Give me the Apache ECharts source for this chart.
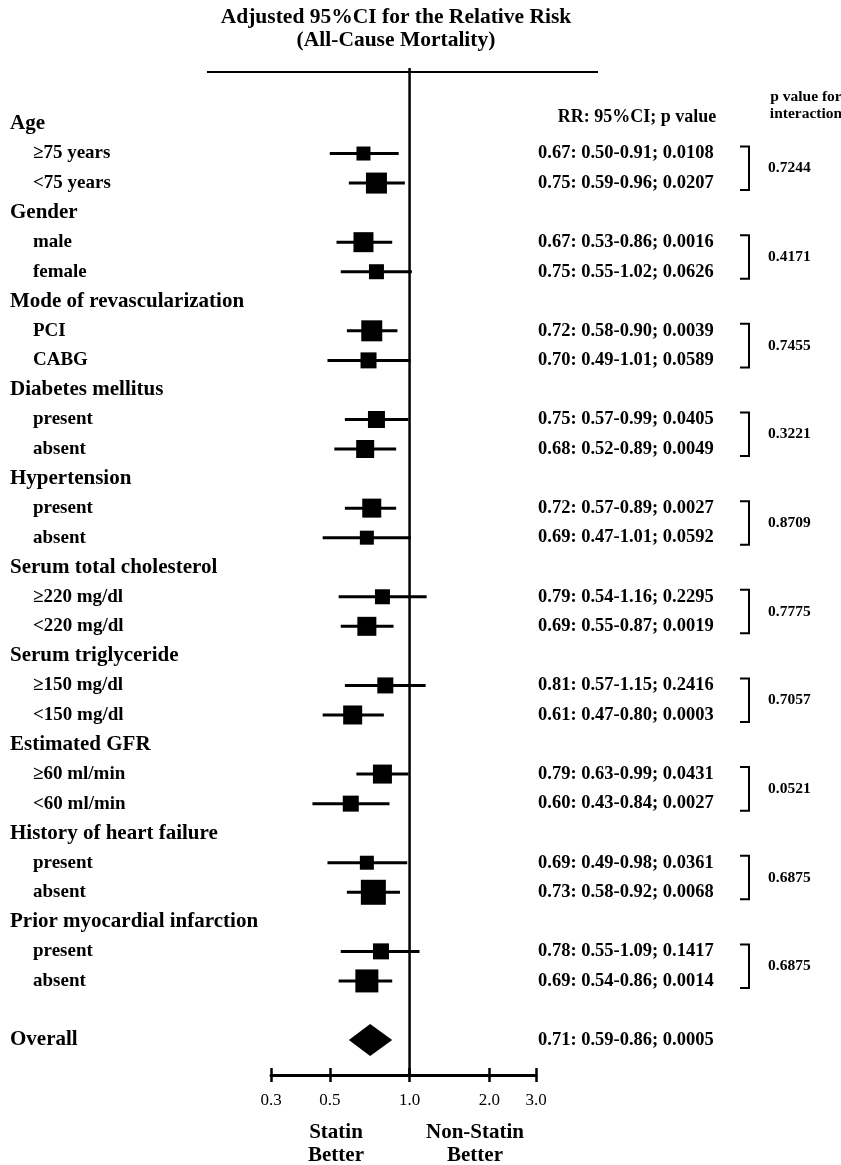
<!DOCTYPE html>
<html>
<head>
<meta charset="utf-8">
<script src="https://cdn.jsdelivr.net/npm/echarts@6/dist/echarts.min.js"></script>
<style>
  html, body { margin: 0; padding: 0; background: #fff; }
  #main { width: 841px; height: 1165px; }
</style>
</head>
<body>
<div id="main"></div>
<script>
// data
var groups = ['Age', 'Gender', 'Mode of revascularization', 'Diabetes mellitus', 'Hypertension',
  'Serum total cholesterol', 'Serum triglyceride', 'Estimated GFR', 'History of heart failure',
  'Prior myocardial infarction'];
var subgroups = ['≥75 years', '<75 years', 'male', 'female', 'PCI', 'CABG', 'present', 'absent',
  'present', 'absent', '≥220 mg/dl', '<220 mg/dl', '≥150 mg/dl', '<150 mg/dl', '≥60 ml/min',
  '<60 ml/min', 'present', 'absent', 'present', 'absent'];
var rr = [0.67, 0.75, 0.67, 0.75, 0.72, 0.70, 0.75, 0.68, 0.72, 0.69, 0.79, 0.69, 0.81, 0.61, 0.79, 0.60, 0.69, 0.73, 0.78, 0.69];
var ciLow = [0.50, 0.59, 0.53, 0.55, 0.58, 0.49, 0.57, 0.52, 0.57, 0.47, 0.54, 0.55, 0.57, 0.47, 0.63, 0.43, 0.49, 0.58, 0.55, 0.54];
var ciHigh = [0.91, 0.96, 0.86, 1.02, 0.90, 1.01, 0.99, 0.89, 0.89, 1.01, 1.16, 0.87, 1.15, 0.80, 0.99, 0.84, 0.98, 0.92, 1.09, 0.86];
var pValue = ['0.0108', '0.0207', '0.0016', '0.0626', '0.0039', '0.0589', '0.0405', '0.0049', '0.0027', '0.0592',
  '0.2295', '0.0019', '0.2416', '0.0003', '0.0431', '0.0027', '0.0361', '0.0068', '0.1417', '0.0014'];
var boxWeight = [14, 21, 20, 15, 21, 16, 17, 18, 19, 14, 15, 19, 16, 19, 19, 16, 14, 25, 16, 23];
var pInteraction = ['0.7244', '0.4171', '0.7455', '0.3221', '0.8709', '0.7775', '0.7057', '0.0521', '0.6875', '0.6875'];
var overall = { label: 'Overall', rr: 0.71, low: 0.59, high: 0.86, p: '0.0005' };
var tickValues = [0.3, 0.5, 1.0, 2.0, 3.0];
var refLine = 1.0;

var FONT = '"Liberation Serif", "Times New Roman", serif';
var LOG = Math.log10;
var xMin = LOG(tickValues[0]), xMax = LOG(tickValues[tickValues.length - 1]);

function rrText(r, l, h, p) {
  return r.toFixed(2) + ': ' + l.toFixed(2) + '-' + h.toFixed(2) + '; ' + p;
}

// one row per header / subgroup, a blank, then overall
var rowLabels = [], rowText = [], boxData = [], bracketData = [];
groups.forEach(function (g, i) {
  rowLabels.push('{h|' + g + '}');
  rowText.push('');
  var first = rowLabels.length;
  for (var j = 0; j < 2; j++) {
    var k = i * 2 + j;
    var row = rowLabels.length;
    rowLabels.push('{s|' + subgroups[k] + '}');
    rowText.push(rrText(rr[k], ciLow[k], ciHigh[k], pValue[k]));
    boxData.push([LOG(rr[k]), row, LOG(ciLow[k]), LOG(ciHigh[k]), boxWeight[k]]);
  }
  bracketData.push([first, first + 1, i]);
});
rowLabels.push('');
rowText.push('');
var overallRow = rowLabels.length;
rowLabels.push('{h|' + overall.label + '}');
rowText.push(rrText(overall.rr, overall.low, overall.high, overall.p));
var rowIds = rowLabels.map(function (d, i) { return String(i); });
var tickLogs = tickValues.map(LOG);

var chart = echarts.init(document.getElementById('main'));

var option = {
  backgroundColor: '#fff',
  animation: false,
  grid: [
    { left: 271, right: 305, top: 109.2, height: 945.6 },
    { left: 271, right: 305, top: 68, bottom: 90 }
  ],
  xAxis: [
    { gridIndex: 0, type: 'value', min: xMin, max: xMax, show: false },
    {
      gridIndex: 1, type: 'value', min: xMin, max: xMax, position: 'bottom',
      axisLine: { lineStyle: { color: '#000', width: 3 } },
      axisTick: { customValues: tickLogs, length: 7, lineStyle: { color: '#000', width: 2.5 } },
      axisLabel: {
        customValues: tickLogs, margin: 17, color: '#000', fontFamily: FONT, fontSize: 17,
        formatter: function (v) {
          var best = 0;
          tickLogs.forEach(function (t, i) { if (Math.abs(t - v) < Math.abs(tickLogs[best] - v)) best = i; });
          return tickValues[best].toFixed(1);
        }
      },
      splitLine: { show: false }
    },
    {
      gridIndex: 1, type: 'value', min: xMin, max: xMax, position: 'bottom',
      axisLine: { show: false },
      axisTick: { customValues: tickLogs, inside: true, length: 7, lineStyle: { color: '#000', width: 2.5 } },
      axisLabel: { show: false },
      splitLine: { show: false }
    }
  ],
  yAxis: [
    {
      gridIndex: 0, type: 'category', inverse: true, data: rowIds,
      axisLine: { show: false }, axisTick: { show: false },
      axisLabel: {
        interval: 0, align: 'left', margin: 261, color: '#000',
        formatter: function (v, i) { return rowLabels[i]; },
        rich: {
          h: { fontFamily: FONT, fontSize: 21, fontWeight: 'bold', color: '#000' },
          s: { fontFamily: FONT, fontSize: 19, fontWeight: 'bold', color: '#000', padding: [0, 0, 0, 23] }
        }
      }
    },
    {
      gridIndex: 0, type: 'category', inverse: true, position: 'right', data: rowIds,
      axisLine: { show: false }, axisTick: { show: false },
      axisLabel: {
        interval: 0, align: 'left', margin: 2, color: '#000',
        fontFamily: FONT, fontSize: 18.5, fontWeight: 'bold',
        formatter: function (v, i) { return rowText[i]; }
      }
    },
    { gridIndex: 1, type: 'value', min: 0, max: 1, show: false }
  ],
  graphic: [
    { type: 'text', style: { text: 'Adjusted 95%CI for the Relative Risk\n(All-Cause Mortality)', x: 396, y: 29,
      align: 'center', verticalAlign: 'middle', lineHeight: 23, font: 'bold 21.5px ' + FONT, fill: '#000' } },
    { type: 'line', shape: { x1: 207, y1: 72, x2: 598, y2: 72 }, style: { stroke: '#000', lineWidth: 2 } },
    { type: 'text', style: { text: 'RR: 95%CI; p value', x: 637, y: 117, align: 'center', verticalAlign: 'middle',
      font: 'bold 18px ' + FONT, fill: '#000' } },
    { type: 'text', style: { text: 'p value for\ninteraction', x: 806, y: 105, align: 'center', verticalAlign: 'middle',
      lineHeight: 17, font: 'bold 15.5px ' + FONT, fill: '#000' } },
    { type: 'text', style: { text: 'Statin\nBetter', x: 336, y: 1144, align: 'center', verticalAlign: 'middle',
      lineHeight: 23, font: 'bold 21px ' + FONT, fill: '#000' } },
    { type: 'text', style: { text: 'Non-Statin\nBetter', x: 475, y: 1144, align: 'center', verticalAlign: 'middle',
      lineHeight: 23, font: 'bold 21px ' + FONT, fill: '#000' } }
  ],
  series: [
    {
      // reference line at RR = 1
      type: 'custom', xAxisIndex: 1, yAxisIndex: 2, silent: true,
      data: [[LOG(refLine)]],
      renderItem: function (params, api) {
        var a = api.coord([api.value(0), 0]);
        var b = api.coord([api.value(0), 1]);
        return { type: 'line', shape: { x1: a[0], y1: a[1], x2: b[0], y2: b[1] },
          style: { stroke: '#000', lineWidth: 2.5 } };
      }
    },
    {
      type: 'custom', xAxisIndex: 0, yAxisIndex: 0, silent: true,
      data: boxData,
      renderItem: function (params, api) {
        var c = api.coord([api.value(0), api.value(1)]);
        var lo = api.coord([api.value(2), api.value(1)]);
        var hi = api.coord([api.value(3), api.value(1)]);
        var s = api.value(4);
        return { type: 'group', children: [
          { type: 'line', shape: { x1: lo[0], y1: c[1], x2: hi[0], y2: c[1] }, style: { stroke: '#000', lineWidth: 3 } },
          { type: 'rect', shape: { x: c[0] - s / 2, y: c[1] - s / 2, width: s, height: s }, style: { fill: '#000' } }
        ] };
      }
    },
    {
      type: 'custom', xAxisIndex: 0, yAxisIndex: 0, silent: true,
      data: [[LOG(overall.rr), overallRow, LOG(overall.low), LOG(overall.high)]],
      renderItem: function (params, api) {
        var c = api.coord([api.value(0), api.value(1)]);
        var lo = api.coord([api.value(2), api.value(1)]);
        var hi = api.coord([api.value(3), api.value(1)]);
        var hh = 16;
        return { type: 'polygon', shape: { points: [[lo[0], c[1]], [c[0], c[1] - hh], [hi[0], c[1]], [c[0], c[1] + hh]] },
          style: { fill: '#000' } };
      }
    },
    {
      // brackets and p value for interaction
      type: 'custom', xAxisIndex: 0, yAxisIndex: 0, silent: true,
      data: bracketData,
      renderItem: function (params, api) {
        var y1 = api.coord([xMax, api.value(0)])[1] - 7;
        var y2 = api.coord([xMax, api.value(1)])[1] + 7;
        var x = api.coord([xMax, 0])[0] + 213;
        return { type: 'group', children: [
          { type: 'polyline', shape: { points: [[x - 9, y1], [x, y1], [x, y2], [x - 9, y2]] },
            style: { stroke: '#000', lineWidth: 2, fill: null } },
          { type: 'text', style: { text: pInteraction[api.value(2)], x: x + 19, y: (y1 + y2) / 2,
            align: 'left', verticalAlign: 'middle', font: 'bold 15.5px ' + FONT, fill: '#000' } }
        ] };
      }
    }
  ]
};

chart.setOption(option);
</script>
</body>
</html>
